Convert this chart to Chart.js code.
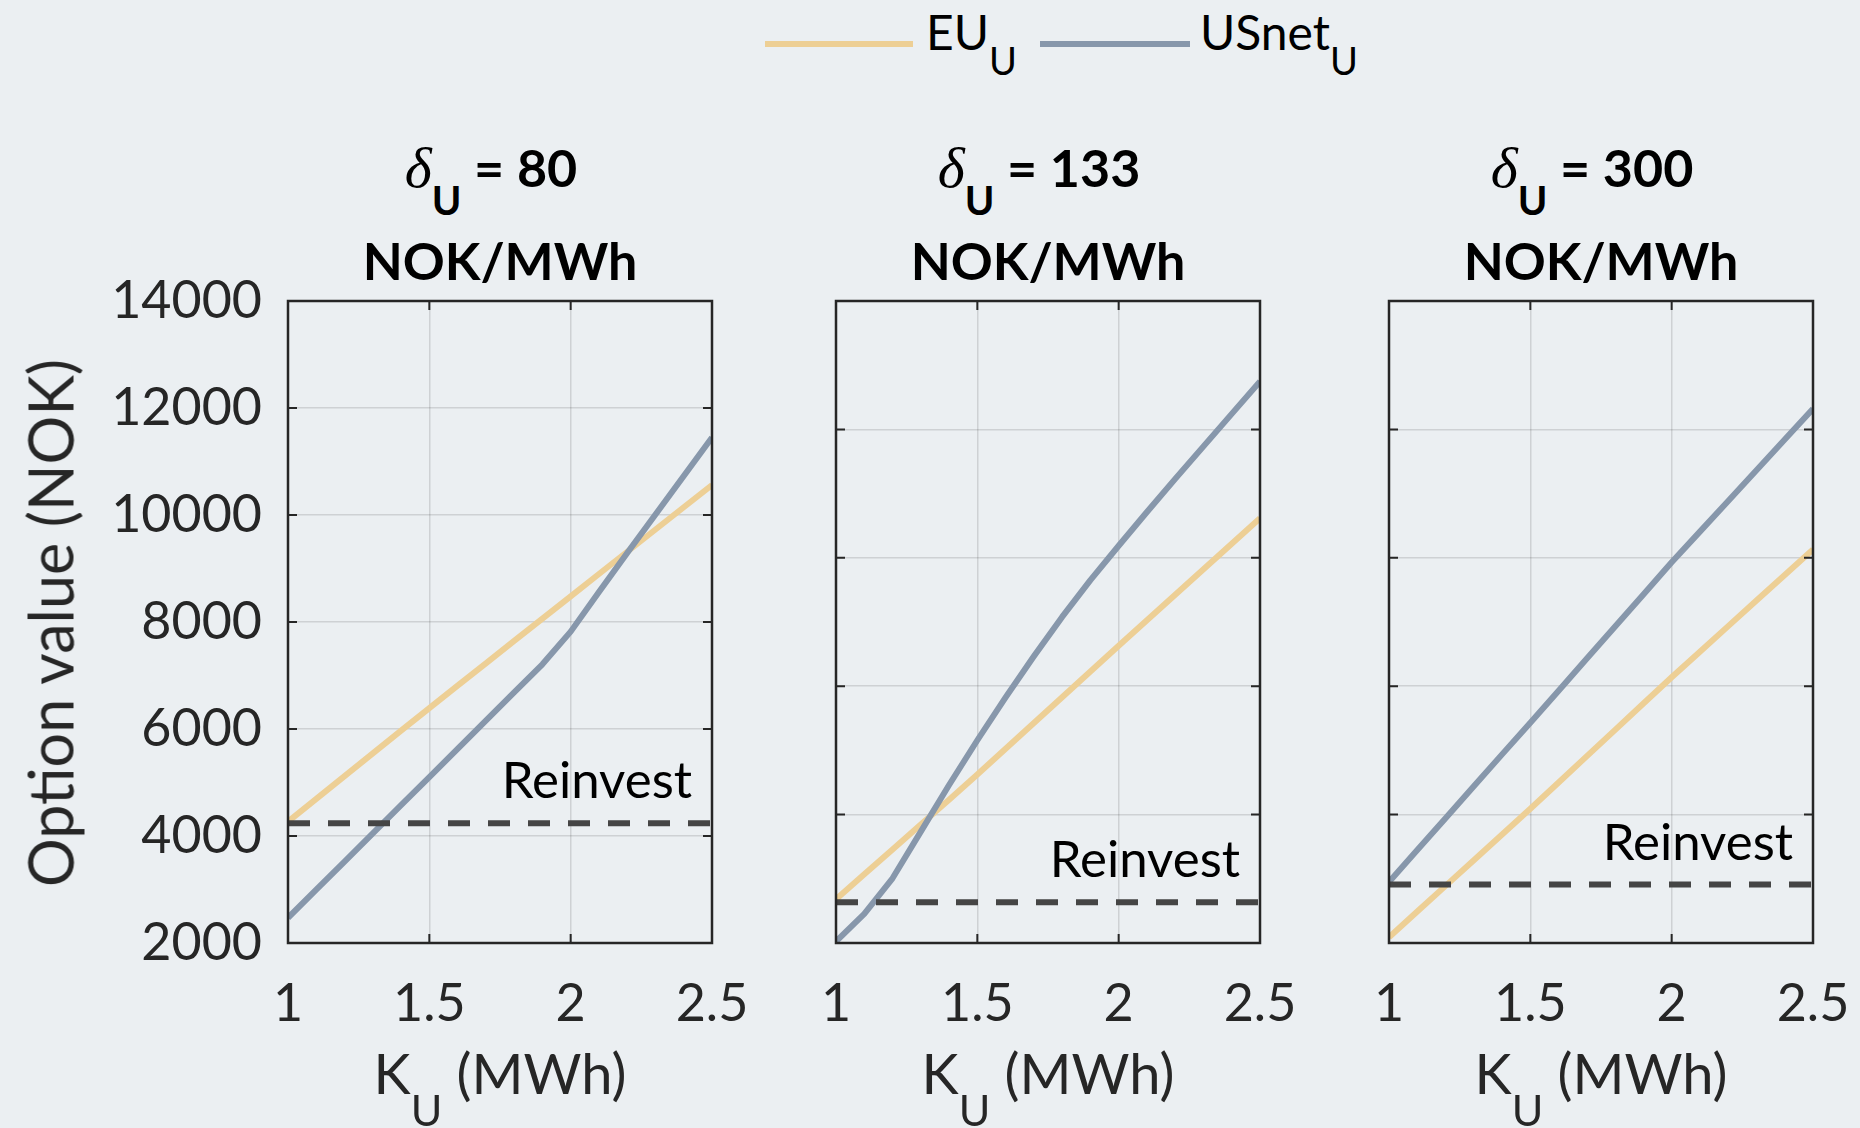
<!DOCTYPE html>
<html>
<head>
<meta charset="utf-8">
<script src="https://cdn.jsdelivr.net/npm/chart.js@4.4.1/dist/chart.umd.min.js"></script>
<style>
  html, body { margin: 0; padding: 0; }
  body {
    width: 1860px; height: 1128px; overflow: hidden; position: relative;
    background: #ebeff2; font-family: Lato, sans-serif; color: #262626;
  }
  canvas { position: absolute; }
  .txt { position: absolute; white-space: nowrap; line-height: 1; }
  .ttl { font-weight: bold; font-size: 52px; color: #000; transform: translateX(-50%); }
  .ttl .dl { font-family: "Liberation Serif", serif; font-style: italic; font-weight: normal; font-size: 58px; }
  .ttl sub { font-size: 40px; vertical-align: -28px; line-height: 1; }
  .xt { font-size: 56px; transform: translateX(-50%); }
  .xt sub { font-size: 43px; vertical-align: -32px; line-height: 1; }
  .yt { font-size: 61px; transform: translate(-50%, -50%) rotate(-90deg); }
  .lg { font-size: 48px; color: #000; }
  .lg sub { font-size: 38px; vertical-align: -25px; line-height: 1; }
  .swatch { position: absolute; height: 6px; }
</style>
</head>
<body>
<script>
// K_U (MWh) sample points
const kValues = [1, 1.1, 1.2, 1.3, 1.4, 1.5, 1.6, 1.7, 1.8, 1.9, 2, 2.1, 2.2, 2.3, 2.4, 2.5];

// delta_U = 80
const eu80 = [4270, 4695, 5120, 5545, 5968, 6390, 6810, 7228, 7646, 8063, 8480, 8897, 9313, 9729, 10145, 10560];
const usnet80 = [2470, 2997, 3523, 4050, 4577, 5100, 5630, 6157, 6683, 7210, 7820, 8560, 9290, 10010, 10730, 11450];
const reinvest80 = 4240;

// delta_U = 133
const eu133 = [2250, 2655, 3060, 3465, 3870, 4280, 4700, 5120, 5540, 5960, 6380, 6796, 7212, 7628, 8044, 8460];
const usnet133 = [1560, 2010, 2590, 3350, 4110, 4840, 5540, 6210, 6850, 7450, 8010, 8560, 9100, 9630, 10160, 10690];
const reinvest133 = 2200;

// delta_U = 300
const eu300 = [2090, 2490, 2890, 3290, 3690, 4090, 4500, 4910, 5320, 5730, 6140, 6538, 6936, 7334, 7732, 8130];
const usnet300 = [2950, 3447, 3944, 4441, 4938, 5430, 5930, 6430, 6930, 7430, 7930, 8408, 8886, 9364, 9842, 10320];
const reinvest300 = 2910;

const deltas = ['80', '133', '300'];
const yMins = [2000, 1535, 2000];
const yMaxs = [14000, 12000, 12000];

const EU_COLOR = '#edcf95';
const USNET_COLOR = '#8797ab';
const TEXT_COLOR = '#262626';
const GRID_COLOR = 'rgba(38,38,38,0.15)';

const panels = [
  { eu: eu80, usnet: usnet80, reinvest: reinvest80 },
  { eu: eu133, usnet: usnet133, reinvest: reinvest133 },
  { eu: eu300, usnet: usnet300, reinvest: reinvest300 }
];

// layout
const plotLefts = [288, 836, 1389];
const plotTop = 301, plotW = 424, plotH = 642;

// box, inward ticks and the "Reinvest" note
const framePlugin = {
  id: 'frame',
  afterDatasetsDraw(chart, args, opts) {
    const { ctx, chartArea: a, scales } = chart;
    ctx.save();
    const yr = scales.y.getPixelForValue(opts.reinvest);
    ctx.font = '51px Lato';
    ctx.fillStyle = '#000';
    ctx.textAlign = 'right';
    ctx.textBaseline = 'alphabetic';
    ctx.fillText('Reinvest', a.right - 20, yr - 25);

    ctx.strokeStyle = TEXT_COLOR;
    ctx.lineWidth = 2;
    scales.x.ticks.forEach(t => {
      const px = scales.x.getPixelForValue(t.value);
      ctx.beginPath();
      ctx.moveTo(px, a.bottom); ctx.lineTo(px, a.bottom - 9);
      ctx.moveTo(px, a.top); ctx.lineTo(px, a.top + 9);
      ctx.stroke();
    });
    scales.y.ticks.forEach(t => {
      const py = scales.y.getPixelForValue(t.value);
      ctx.beginPath();
      ctx.moveTo(a.left, py); ctx.lineTo(a.left + 9, py);
      ctx.moveTo(a.right, py); ctx.lineTo(a.right - 9, py);
      ctx.stroke();
    });
    ctx.lineWidth = 2.5;
    ctx.strokeRect(a.left, a.top, a.right - a.left, a.bottom - a.top);
    ctx.restore();
  }
};

function addText(html, cls, left, top) {
  const d = document.createElement('div');
  d.className = 'txt ' + cls;
  d.innerHTML = html;
  d.style.left = left + 'px';
  d.style.top = top + 'px';
  document.body.appendChild(d);
}

function renderPanel(i) {
  const p = panels[i];
  const yW = i === 0 ? 288 : 76;
  const padTop = 60, padRight = 70, xH = 97;
  const canvas = document.createElement('canvas');
  canvas.width = yW + plotW + padRight;
  canvas.height = padTop + plotH + xH;
  canvas.style.left = (plotLefts[i] - yW) + 'px';
  canvas.style.top = (plotTop - padTop) + 'px';
  document.body.appendChild(canvas);

  const tickFont = { family: 'Lato', size: 52 };

  new Chart(canvas.getContext('2d'), {
    type: 'line',
    data: {
      datasets: [
        {
          label: 'Reinvest',
          data: [{ x: kValues[0], y: p.reinvest }, { x: kValues[kValues.length - 1], y: p.reinvest }],
          borderColor: '#454545', borderWidth: 6, borderDash: [22, 18],
          pointRadius: 0, order: 0
        },
        {
          label: 'USnet',
          data: kValues.map((k, j) => ({ x: k, y: p.usnet[j] })),
          borderColor: USNET_COLOR, borderWidth: 6, pointRadius: 0,
          borderJoinStyle: 'round', order: 1
        },
        {
          label: 'EU',
          data: kValues.map((k, j) => ({ x: k, y: p.eu[j] })),
          borderColor: EU_COLOR, borderWidth: 6, pointRadius: 0,
          borderJoinStyle: 'round', order: 2
        }
      ]
    },
    options: {
      responsive: false,
      animation: false,
      events: [],
      layout: { padding: { top: padTop, right: padRight, left: 0, bottom: 0 } },
      plugins: {
        legend: { display: false },
        tooltip: { enabled: false },
        frame: { reinvest: p.reinvest }
      },
      scales: {
        x: {
          type: 'linear', min: 1, max: 2.5,
          ticks: {
            stepSize: 0.5, autoSkip: false, maxRotation: 0, padding: 30,
            color: TEXT_COLOR, font: tickFont, callback: v => String(v)
          },
          grid: { color: GRID_COLOR, lineWidth: 1.5, drawTicks: false },
          border: { display: false },
          afterFit: s => { s.height = xH; }
        },
        y: {
          type: 'linear', min: yMins[i], max: yMaxs[i],
          ticks: {
            display: i === 0, stepSize: 2000, includeBounds: false, padding: 26,
            color: TEXT_COLOR, font: tickFont, callback: v => String(v)
          },
          grid: { color: GRID_COLOR, lineWidth: 1.5, drawTicks: false },
          border: { display: false },
          afterFit: s => { s.width = yW; }
        }
      }
    },
    plugins: [framePlugin]
  });

  const cx = plotLefts[i] + plotW / 2;
  addText('<span class="dl">δ</span><sub>U</sub> = ' + deltas[i], 'ttl', cx - 9, 139);
  addText('NOK/MWh', 'ttl', cx, 234);
  addText('K<sub>U</sub> (MWh)', 'xt', cx, 1045);
}

[0, 1, 2].forEach(renderPanel);

addText('Option value (NOK)', 'yt', 50, 623);

// legend
const sw1 = document.createElement('div');
sw1.className = 'swatch';
sw1.style.cssText = 'left:765px;top:41px;width:148px;background:' + EU_COLOR;
document.body.appendChild(sw1);
const sw2 = document.createElement('div');
sw2.className = 'swatch';
sw2.style.cssText = 'left:1040px;top:41px;width:150px;background:' + USNET_COLOR;
document.body.appendChild(sw2);
addText('EU<sub>U</sub>', 'lg', 926, 8);
addText('USnet<sub>U</sub>', 'lg', 1200, 8);
</script>
</body>
</html>
